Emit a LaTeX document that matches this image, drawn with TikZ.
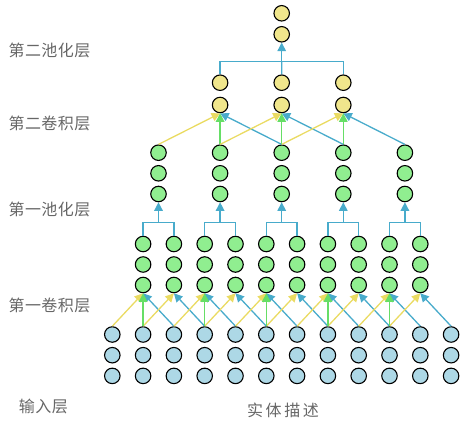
\documentclass[tikz,border=0pt]{standalone}
\usepackage{fontspec}
\usetikzlibrary{arrows.meta}
\newfontfamily\cjk[LetterSpace=3]{Noto Sans CJK SC}
\newfontfamily\cjkwide[LetterSpace=16]{Noto Sans CJK SC}
\definecolor{nodeyellow}{HTML}{F0E68C}
\definecolor{nodegreen}{HTML}{90EE90}
\definecolor{nodeblue}{HTML}{ADD8E6}
\definecolor{lnyellow}{HTML}{EADB62}
\definecolor{lnblue}{HTML}{48ABCB}
\definecolor{lngreen}{HTML}{66DE66}
\definecolor{txtgray}{HTML}{666666}
\begin{document}
\begin{tikzpicture}[x=1pt,y=-1pt,
  neuron/.style={circle, draw=black, line width=1.1pt, minimum size=15.5pt, inner sep=0pt},
  inp/.style={neuron, fill=nodeblue},
  grn/.style={neuron, fill=nodegreen},
  yel/.style={neuron, fill=nodeyellow},
  conn/.style={line width=1.3pt, -{Triangle[length=8.5pt,width=8.5pt]}},
  ylink/.style={conn, draw=lnyellow},
  blink/.style={conn, draw=lnblue},
  glink/.style={conn, draw=lngreen},
  bline/.style={line width=1.3pt, draw=lnblue},
  lbl/.style={font=\fontsize{16}{18}\selectfont\cjk, text=txtgray, inner sep=0pt},
  lblwide/.style={font=\fontsize{16}{18}\selectfont\cjkwide, text=txtgray, inner sep=0pt}]
\useasboundingbox (0,0) rectangle (461,422);

% input layer
\foreach \i in {0,...,11} {
  \pgfmathsetmacro\xx{112.3+30.8*\i}
  \foreach \r/\yy in {1/334.5,2/355.2,3/375.9}
    \node[inp] (in-\i-\r) at (\xx,\yy) {};
}
% first convolution layer
\foreach \j in {1,...,10} {
  \pgfmathsetmacro\xx{112.3+30.8*\j}
  \foreach \r/\yy in {1/244,2/264.5,3/285}
    \node[grn] (c1-\j-\r) at (\xx,\yy) {};
}
% first pooling layer
\foreach \k in {1,...,5} {
  \pgfmathsetmacro\xx{112.3+30.8*(2*\k-0.5)}
  \foreach \r/\yy in {1/152.7,2/173.3,3/194}
    \node[grn] (p1-\k-\r) at (\xx,\yy) {};
  \coordinate (bar1-\k) at (\xx,222.7);
}
% second convolution layer
\foreach \k in {2,3,4} {
  \pgfmathsetmacro\xx{112.3+30.8*(2*\k-0.5)}
  \foreach \r/\yy in {1/82.7,2/105}
    \node[yel] (c2-\k-\r) at (\xx,\yy) {};
}
% second pooling layer
\node[yel] (p2-1) at (281.7,13.3) {};
\node[yel] (p2-2) at (281.7,34.3) {};
\coordinate (bar2) at (281.7,61.7);

% input -> conv1
\foreach \j in {1,...,10} {
  \pgfmathtruncatemacro\a{\j-1}
  \pgfmathtruncatemacro\b{\j+1}
  \draw[ylink] (in-\a-1.north) -- (c1-\j-3.south);
  \draw[blink] (in-\b-1.north) -- (c1-\j-3.south);
}
\foreach \j in {1,3,5,7,9}
  \draw[glink] (in-\j-1.north) -- (c1-\j-3.south);

% conv1 -> pool1
\foreach \k in {1,...,5} {
  \pgfmathtruncatemacro\a{2*\k-1}
  \pgfmathtruncatemacro\b{2*\k}
  \draw[bline] (c1-\a-1.north) |- (bar1-\k) -| (c1-\b-1.north);
  \draw[blink] (bar1-\k) -- (p1-\k-3.south);
}

% pool1 -> conv2
\foreach \k in {2,3,4} {
  \pgfmathtruncatemacro\a{\k-1}
  \pgfmathtruncatemacro\b{\k+1}
  \draw[ylink] (p1-\a-1.north) -- (c2-\k-2.south);
  \draw[blink] (p1-\b-1.north) -- (c2-\k-2.south);
  \draw[glink] (p1-\k-1.north) -- (c2-\k-2.south);
}

% conv2 -> pool2
\draw[bline] (c2-2-1.north) |- (bar2) -| (c2-4-1.north);
\draw[bline] (c2-3-1.north) -- (bar2);
\draw[blink] (bar2) -- (p2-2.south);

% labels
\node[lbl] (l5) at (49.5,50.5) {第二池化层};
\node[lbl] (l4) at (49.5,123) {第二卷积层};
\node[lbl] (l3) at (49.5,209) {第一池化层};
\node[lbl] (l2) at (49.5,305) {第一卷积层};
\node[lbl] (l1) at (43.3,406) {输入层};
\node[lblwide] (l0) at (283,410) {实体描述};
\end{tikzpicture}
\end{document}
